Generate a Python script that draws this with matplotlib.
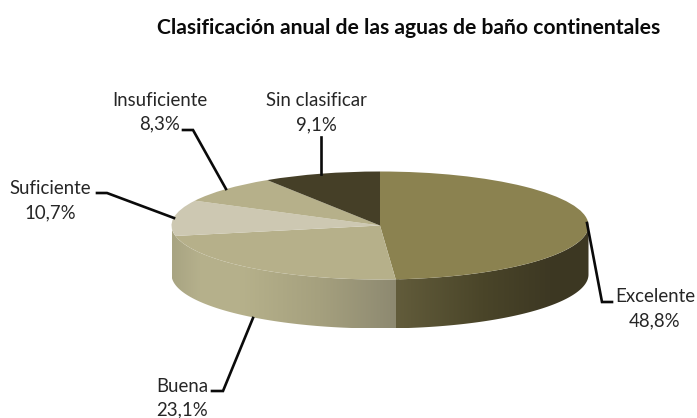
import numpy as np
import matplotlib
matplotlib.use('Agg')
import matplotlib.pyplot as plt
from matplotlib.colors import LinearSegmentedColormap
from matplotlib.patches import Polygon
from matplotlib.transforms import Affine2D

categories = ['Excelente', 'Buena', 'Suficiente', 'Insuficiente', 'Sin clasificar']
values = [48.8, 23.1, 10.7, 8.3, 9.1]
title = 'Clasificación anual de las aguas de baño continentales'
top_colors = ['#8b8250', '#b6b08a', '#cdc8b2', '#b6b08a', '#453f27']

W, H = 697, 418
CX, CY, RX, RY, DEPTH = 380.0, 225.5, 208.5, 54.0, 49.0

plt.rcParams['font.family'] = ['Lato', 'DejaVu Sans']
fig = plt.figure(figsize=(W / 100, H / 100), dpi=100, facecolor='white')
ax = fig.add_axes([0, 0, 1, 1])

ax.pie(values, colors=top_colors, startangle=90, counterclock=False, radius=1,
       center=(0, 0), wedgeprops={'linewidth': 0, 'zorder': 3})

# side wall, shaded left-to-right inside each visible slice
exc_cmap = LinearSegmentedColormap.from_list('exc', [(0, '#625c3b'), (0.45, '#4a4529'), (0.8, '#3d3823'), (1, '#3c3722')])
bue_cmap = LinearSegmentedColormap.from_list('bue', [(0, '#a8a482'), (0.12, '#b5b08c'), (0.3, '#b6b18b'), (0.65, '#a5a07e'), (1, '#8c8870')])

edges = 360 * np.cumsum([0] + values) / sum(values)
d = DEPTH / RY


def wall(theta0, theta1, cmap, z):
    th = np.radians(np.linspace(theta0, theta1, 200))
    xs, ys = np.sin(th), np.cos(th)
    verts = np.column_stack([np.r_[xs, xs[::-1]], np.r_[ys, ys[::-1] - d]])
    x0, x1 = xs.min(), xs.max()
    grad = np.linspace(0, 1, 256).reshape(1, -1)
    im = ax.imshow(grad, cmap=cmap, extent=(x0, x1, -1 - d, 1), aspect='auto',
                   interpolation='bilinear', zorder=z)
    im.set_clip_path(Polygon(verts, transform=ax.transData))


wall(edges[1] - 1, 270, bue_cmap, 2)
wall(90, edges[1], exc_cmap, 2.1)

ax.set_aspect('auto')
ax.set_xlim(-CX / RX, (W - CX) / RX)
ax.set_ylim((CY - H) / RY, CY / RY)
ax.axis('off')

px = Affine2D().scale(1, -1).translate(0, H)

leaders = {
    'Excelente': [(587, 223), (602, 302), (612, 302)],
    'Buena': [(253, 318), (223, 391), (212, 391)],
    'Suficiente': [(174, 218), (107, 193), (97, 193)],
    'Insuficiente': [(226, 189), (193, 130), (183, 130)],
    'Sin clasificar': [(321, 174), (321, 137)],
}
label_pos = {
    'Excelente': (655, 309),
    'Buena': (182, 398),
    'Suficiente': (50, 201),
    'Insuficiente': (160, 112),
    'Sin clasificar': (316, 113),
}
for name, v in zip(categories, values):
    pts = np.array(leaders[name])
    ax.plot(pts[:, 0], pts[:, 1], color='#0a0a0a', lw=1.9, transform=px, zorder=4,
            solid_joinstyle='miter', clip_on=False)
    x, y = label_pos[name]
    ax.text(x, y, f"{name}\n{v:.1f}".replace('.', ',') + '%', transform=px, ha='center', va='center',
            fontsize=13.4, color='#262626', linespacing=1.5, zorder=5, clip_on=False)

ax.text(409, 28, title, transform=px, ha='center', va='center', fontsize=15.2,
        fontweight='bold', color='#0a0a0a')

fig.savefig('out.png', dpi=100, facecolor='white')
